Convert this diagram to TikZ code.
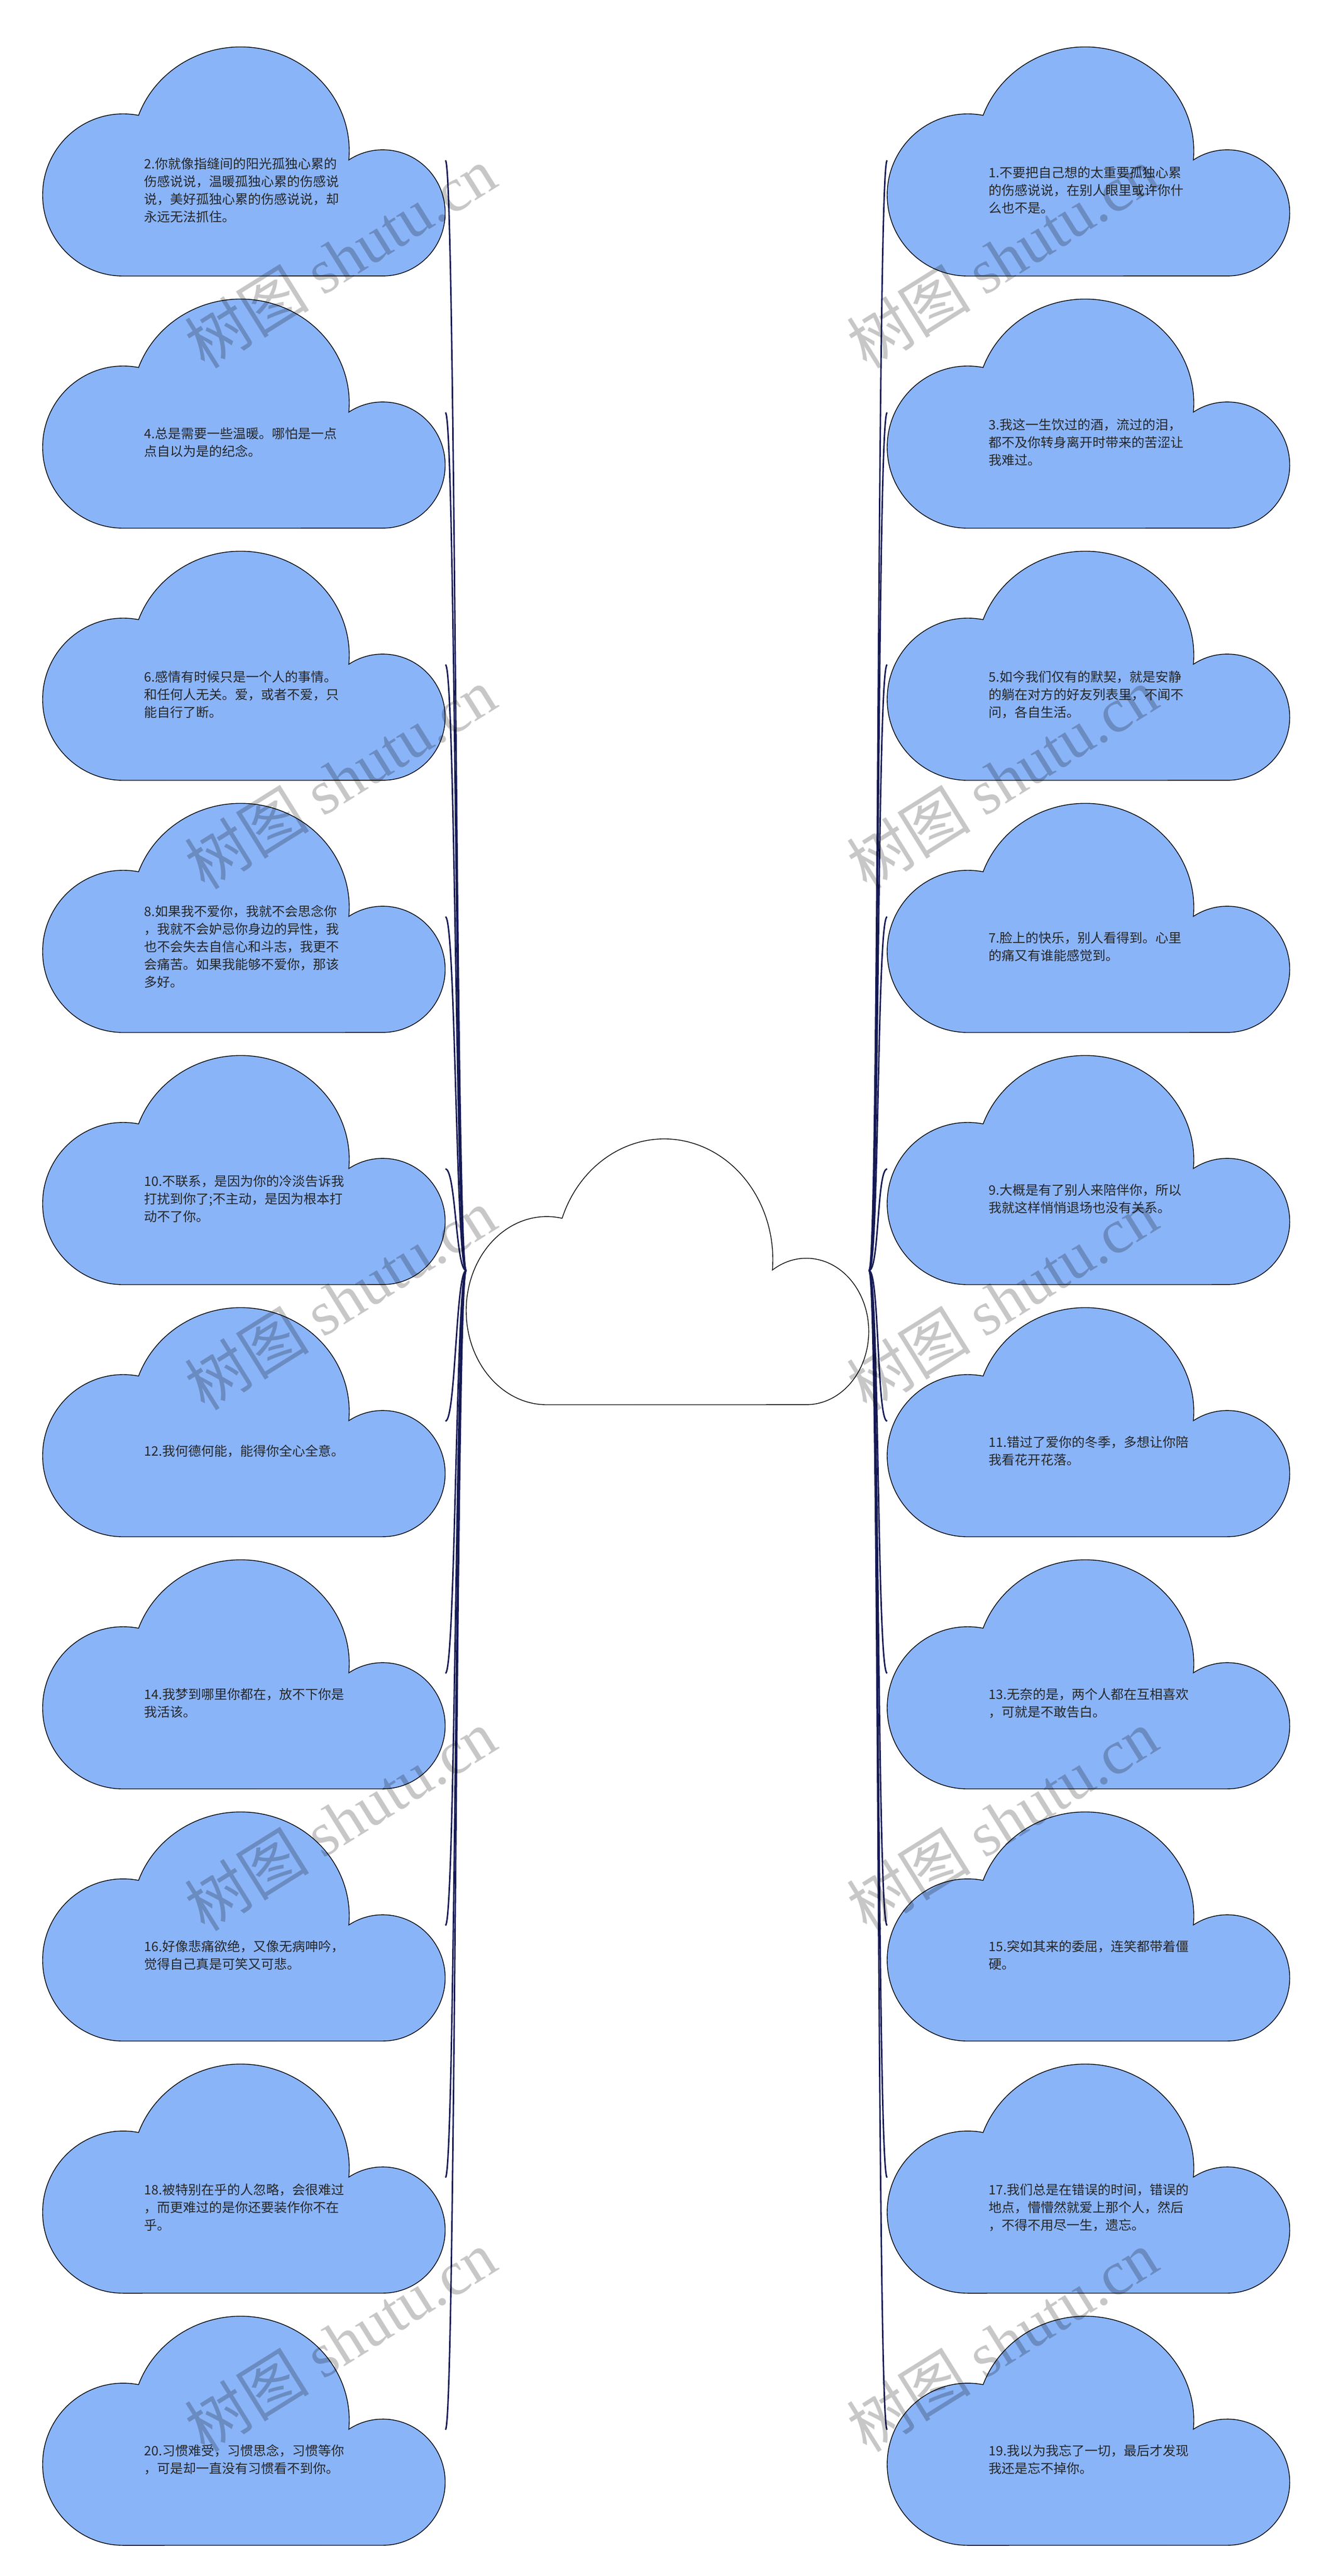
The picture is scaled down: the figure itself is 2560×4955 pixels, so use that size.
\documentclass[tikz,border=0pt]{standalone}
\usepackage{fontspec}
\setmainfont{Noto Sans CJK SC}
\newfontfamily\markcjk{Noto Sans CJK SC}
\newfontfamily\marklatin{Liberation Serif}
\usepackage{tikz}

\definecolor{cloudblue}{HTML}{8AB4F8}
\definecolor{linknavy}{HTML}{151A55}

\tikzset{
  puffline/.style={draw=black, line width=0.7pt, fill=cloudblue},
  hubline/.style={draw=black, line width=0.7pt, fill=white},
  quote/.style={font=\fontsize{12.5pt}{17pt}\selectfont, text=black!85, align=left, inner sep=0pt},
  link/.style={draw=linknavy, line width=1.4pt},
  stamp/.style={font=\fontsize{60pt}{64pt}\selectfont, text=black, text opacity=0.22, rotate=32},
  pics/puff/.style 2 args={code={
    \path[#1] (155,0) arc[start angle=270, end angle=79, x radius=155, y radius=156]
      arc[start angle=160, end angle=-5, x radius=209, y radius=200]
      arc[start angle=123, end angle=-90, x radius=120, y radius=121.4] -- cycle;
    \coordinate (-w) at (0,222.5);
    \coordinate (-e) at (775,222.5);
    \node[quote, anchor=west] (-t) at (195,165) {#2};
  }},
}

\begin{document}
\begin{tikzpicture}[x=0.5pt, y=0.5pt]
\useasboundingbox (0,0) rectangle (2560,-4955);

% center
\pic[yscale=1.16] (c) at (897,-2702) {puff={hubline}{}};

% left side
\pic (l1) at (82,-531) {puff={puffline}{2.你就像指缝间的阳光孤独心累的\\伤感说说，温暖孤独心累的伤感说\\说，美好孤独心累的伤感说说，却\\永远无法抓住。}};
\pic (l2) at (82,-1016) {puff={puffline}{4.总是需要一些温暖。哪怕是一点\\点自以为是的纪念。}};
\pic (l3) at (82,-1501) {puff={puffline}{6.感情有时候只是一个人的事情。\\和任何人无关。爱，或者不爱，只\\能自行了断。}};
\pic (l4) at (82,-1986) {puff={puffline}{8.如果我不爱你，我就不会思念你\\，我就不会妒忌你身边的异性，我\\也不会失去自信心和斗志，我更不\\会痛苦。如果我能够不爱你，那该\\多好。}};
\pic (l5) at (82,-2471) {puff={puffline}{10.不联系，是因为你的冷淡告诉我\\打扰到你了;不主动，是因为根本打\\动不了你。}};
\pic (l6) at (82,-2956) {puff={puffline}{12.我何德何能，能得你全心全意。}};
\pic (l7) at (82,-3441) {puff={puffline}{14.我梦到哪里你都在，放不下你是\\我活该。}};
\pic (l8) at (82,-3926) {puff={puffline}{16.好像悲痛欲绝，又像无病呻吟，\\觉得自己真是可笑又可悲。}};
\pic (l9) at (82,-4411) {puff={puffline}{18.被特别在乎的人忽略，会很难过\\，而更难过的是你还要装作你不在\\乎。}};
\pic (l10) at (82,-4896) {puff={puffline}{20.习惯难受，习惯思念，习惯等你\\，可是却一直没有习惯看不到你。}};

% right side
\pic (r1) at (1707,-531) {puff={puffline}{1.不要把自己想的太重要孤独心累\\的伤感说说，在别人眼里或许你什\\么也不是。}};
\pic (r2) at (1707,-1016) {puff={puffline}{3.我这一生饮过的酒，流过的泪，\\都不及你转身离开时带来的苦涩让\\我难过。}};
\pic (r3) at (1707,-1501) {puff={puffline}{5.如今我们仅有的默契，就是安静\\的躺在对方的好友列表里，不闻不\\问，各自生活。}};
\pic (r4) at (1707,-1986) {puff={puffline}{7.脸上的快乐，别人看得到。心里\\的痛又有谁能感觉到。}};
\pic (r5) at (1707,-2471) {puff={puffline}{9.大概是有了别人来陪伴你，所以\\我就这样悄悄退场也没有关系。}};
\pic (r6) at (1707,-2956) {puff={puffline}{11.错过了爱你的冬季，多想让你陪\\我看花开花落。}};
\pic (r7) at (1707,-3441) {puff={puffline}{13.无奈的是，两个人都在互相喜欢\\，可就是不敢告白。}};
\pic (r8) at (1707,-3926) {puff={puffline}{15.突如其来的委屈，连笑都带着僵\\硬。}};
\pic (r9) at (1707,-4411) {puff={puffline}{17.我们总是在错误的时间，错误的\\地点，懵懵然就爱上那个人，然后\\，不得不用尽一生，遗忘。}};
\pic (r10) at (1707,-4896) {puff={puffline}{19.我以为我忘了一切，最后才发现\\我还是忘不掉你。}};

% links
\draw[link] (c-w) .. controls +(-20,0) and +(20,0) .. (l1-e);
\draw[link] (c-w) .. controls +(-20,0) and +(20,0) .. (l2-e);
\draw[link] (c-w) .. controls +(-20,0) and +(20,0) .. (l3-e);
\draw[link] (c-w) .. controls +(-20,0) and +(20,0) .. (l4-e);
\draw[link] (c-w) .. controls +(-20,0) and +(20,0) .. (l5-e);
\draw[link] (c-w) .. controls +(-20,0) and +(20,0) .. (l6-e);
\draw[link] (c-w) .. controls +(-20,0) and +(20,0) .. (l7-e);
\draw[link] (c-w) .. controls +(-20,0) and +(20,0) .. (l8-e);
\draw[link] (c-w) .. controls +(-20,0) and +(20,0) .. (l9-e);
\draw[link] (c-w) .. controls +(-20,0) and +(20,0) .. (l10-e);
\draw[link] (c-e) .. controls +(20,0) and +(-20,0) .. (r1-w);
\draw[link] (c-e) .. controls +(20,0) and +(-20,0) .. (r2-w);
\draw[link] (c-e) .. controls +(20,0) and +(-20,0) .. (r3-w);
\draw[link] (c-e) .. controls +(20,0) and +(-20,0) .. (r4-w);
\draw[link] (c-e) .. controls +(20,0) and +(-20,0) .. (r5-w);
\draw[link] (c-e) .. controls +(20,0) and +(-20,0) .. (r6-w);
\draw[link] (c-e) .. controls +(20,0) and +(-20,0) .. (r7-w);
\draw[link] (c-e) .. controls +(20,0) and +(-20,0) .. (r8-w);
\draw[link] (c-e) .. controls +(20,0) and +(-20,0) .. (r9-w);
\draw[link] (c-e) .. controls +(20,0) and +(-20,0) .. (r10-w);

% watermark
\node[stamp] (wm1) at (655,-495) {\markcjk 树图 \marklatin shutu.cn};
\node[stamp] (wm2) at (655,-1497) {\markcjk 树图 \marklatin shutu.cn};
\node[stamp] (wm3) at (655,-2499) {\markcjk 树图 \marklatin shutu.cn};
\node[stamp] (wm4) at (655,-3501) {\markcjk 树图 \marklatin shutu.cn};
\node[stamp] (wm5) at (655,-4503) {\markcjk 树图 \marklatin shutu.cn};
\node[stamp] (wm6) at (1928,-495) {\markcjk 树图 \marklatin shutu.cn};
\node[stamp] (wm7) at (1928,-1497) {\markcjk 树图 \marklatin shutu.cn};
\node[stamp] (wm8) at (1928,-2499) {\markcjk 树图 \marklatin shutu.cn};
\node[stamp] (wm9) at (1928,-3501) {\markcjk 树图 \marklatin shutu.cn};
\node[stamp] (wm10) at (1928,-4503) {\markcjk 树图 \marklatin shutu.cn};
\end{tikzpicture}
\end{document}
